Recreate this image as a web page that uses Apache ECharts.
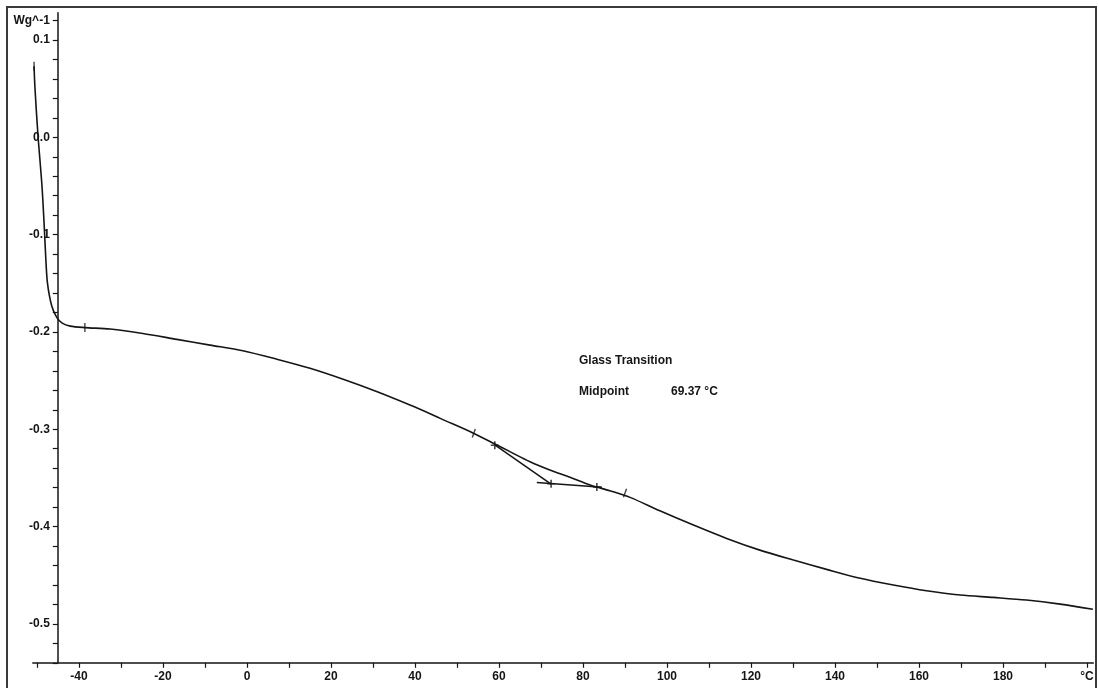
<!DOCTYPE html>
<html>
<head>
<meta charset="utf-8">
<script src="https://cdn.jsdelivr.net/npm/echarts@6/dist/echarts.min.js"></script>
<style>
  html, body { margin: 0; padding: 0; background: #fff; }
  #chart { width: 1099px; height: 688px; }
</style>
</head>
<body>
<div id="chart"></div>
<script>
// ---- data (temperature in °C, heat flow in W/g) ----
const temperature = [-50.7, -50.5, -49.8, -48.8, -48.2, -47.9, -47.5, -46.5, -45.3, -44.0, -42.1, -38.6,
  -32.6, -24.8, -16.7, -8.8, -1.0, 7.1, 15.0, 22.9, 31.0, 38.8, 43.6, 46.0, 53.9, 59.0, 62.6, 67.4,
  72.1, 76.9, 81.7, 86.4, 91.2, 98.3, 106.3, 114.2, 122.1, 130.1, 138.0, 146.0, 153.9, 161.8, 169.8,
  177.7, 185.6, 193.6, 201.4];
const heatFlow = [0.073, 0.052, 0.004, -0.051, -0.098, -0.125, -0.150, -0.173, -0.185, -0.191, -0.194, -0.1955,
  -0.197, -0.2015, -0.2076, -0.2135, -0.2193, -0.228, -0.2374, -0.2487, -0.2615, -0.2751, -0.2840, -0.2888,
  -0.304, -0.3151, -0.3230, -0.3334, -0.3419, -0.3494, -0.3573, -0.3632, -0.370, -0.3838, -0.3985, -0.4122,
  -0.4242, -0.4344, -0.444, -0.4532, -0.4601, -0.466, -0.4704, -0.4728, -0.4755, -0.4797, -0.485];

// Tg evaluation construction lines
const tangentT = [59.0, 72.4];
const tangentV = [-0.3160, -0.3563];
const baseT = [69.0, 84.5];
const baseV = [-0.3546, -0.3597];
// "+" marks
const crossT = [59.0, 72.4, 83.3];
const crossV = [-0.3165, -0.356, -0.3594];
// evaluation limit marks
const limitT = [-50.7, -38.6, 54.0, 90.0];
const limitV = [0.073, -0.1955, -0.304, -0.3655];
const limitRot = [0, 0, -20, -20];

// axis ticks / labels
const xTicks = [-50, -40, -30, -20, -10, 0, 10, 20, 30, 40, 50, 60, 70, 80, 90, 100, 110, 120, 130, 140, 150, 160, 170, 180, 190, 200];
const xLabels = [-40, -20, 0, 20, 40, 60, 80, 100, 120, 140, 160, 180, 200];
const yTicks = [-0.54, -0.52, -0.50, -0.48, -0.46, -0.44, -0.42, -0.40, -0.38, -0.36, -0.34, -0.32, -0.30, -0.28,
  -0.26, -0.24, -0.22, -0.20, -0.18, -0.16, -0.14, -0.12, -0.10, -0.08, -0.06, -0.04, -0.02, 0.0, 0.02, 0.04,
  0.06, 0.08, 0.10, 0.12];
const yLabels = [-0.5, -0.4, -0.3, -0.2, -0.1, 0.0, 0.1, 0.12];
const yUnit = 'Wg^-1';
const xUnit = '°C';
const annotTitle = 'Glass Transition';
const annotName = 'Midpoint';
const annotValue = '69.37 °C';

const pairs = (a, b) => a.map((v, i) => [v, b[i]]);
const ink = '#151515';
const font = '"Liberation Sans", Arial, sans-serif';

const chart = echarts.init(document.getElementById('chart'));
chart.setOption({
  backgroundColor: '#ffffff',
  animation: false,
  grid: { left: 32.8, right: 5.7, top: 12.8, bottom: 25.2, containLabel: false },
  xAxis: {
    type: 'value', min: -51, max: 201.5, position: 'bottom',
    axisLine: { show: true, onZero: false, lineStyle: { color: ink, width: 1.5 } },
    axisTick: { show: true, length: 5, lineStyle: { color: ink, width: 1.2 }, customValues: xTicks },
    axisLabel: { show: true, customValues: xLabels, color: ink, fontSize: 12, fontWeight: 'bold', fontFamily: font, margin: 8,
      formatter: v => (v === 200 ? xUnit : String(v)) },
    splitLine: { show: false }
  },
  yAxis: {
    type: 'value', min: -0.54, max: 0.128, position: 'left', offset: -25,
    axisLine: { show: true, onZero: false, lineStyle: { color: ink, width: 1.5 } },
    axisTick: { show: true, length: 5, lineStyle: { color: ink, width: 1.2 }, customValues: yTicks },
    axisLabel: { show: true, customValues: yLabels, color: ink, fontSize: 12, fontWeight: 'bold', fontFamily: font, margin: 8,
      formatter: v => (Math.abs(v - 0.12) < 1e-9 ? yUnit : v.toFixed(1)) },
    splitLine: { show: false }
  },
  series: [
    {
      type: 'line', data: pairs(temperature, heatFlow), showSymbol: false, symbol: 'none',
      smooth: 0.3, lineStyle: { color: ink, width: 1.6 }, z: 3
    },
    {
      type: 'line', data: pairs(tangentT, tangentV), showSymbol: false, symbol: 'none',
      lineStyle: { color: ink, width: 1.5 }
    },
    {
      type: 'line', data: pairs(baseT, baseV), showSymbol: false, symbol: 'none',
      lineStyle: { color: ink, width: 1.5 }
    },
    {
      type: 'scatter', data: pairs(crossT, crossV),
      symbol: 'path://M4,0H6V4H10V6H6V10H4V6H0V4H4Z', symbolSize: 8,
      itemStyle: { color: ink }
    },
    {
      type: 'scatter',
      data: limitT.map((t, i) => ({ value: [t, limitV[i]], symbolRotate: limitRot[i] })),
      symbol: 'rect', symbolSize: [1.4, 9], itemStyle: { color: ink }
    }
  ],
  graphic: [
    { type: 'rect', shape: { x: 7, y: 7, width: 1089, height: 700 }, style: { fill: 'none', stroke: '#3a3a3a', lineWidth: 2 }, silent: true },
    { type: 'text', left: 579, top: 355, style: { text: annotTitle, fill: ink, font: 'bold 12px ' + font } },
    { type: 'text', left: 579, top: 386, style: { text: annotName, fill: ink, font: 'bold 12px ' + font } },
    { type: 'text', left: 671, top: 386, style: { text: annotValue, fill: ink, font: 'bold 12px ' + font } }
  ]
});
</script>
</body>
</html>
